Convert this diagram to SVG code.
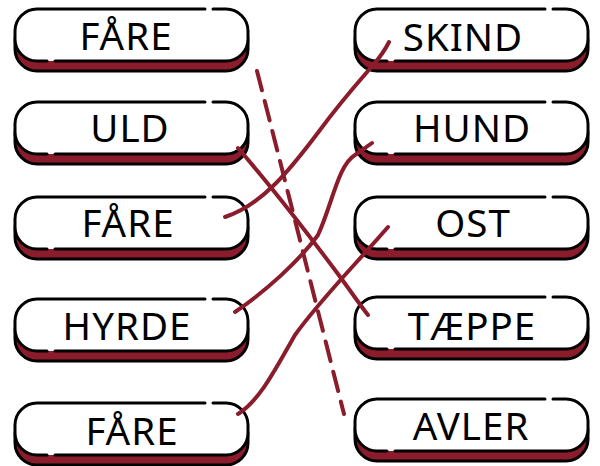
<svg xmlns="http://www.w3.org/2000/svg" xmlns:xlink="http://www.w3.org/1999/xlink" width="600" height="466" viewBox="0 0 600 466">
<style>
.sh{fill:#8b1c2c;stroke:#000;stroke-width:3}
.bg{fill:#fff;stroke:none}
.ol{fill:none;stroke:#000;stroke-width:3;stroke-linecap:round}
.lbl{font-family:"Noto Sans","DejaVu Sans",sans-serif;font-size:38.5px;letter-spacing:1px;fill:#000;text-anchor:middle}
.con{fill:none;stroke:#8b1c2c;stroke-width:4;stroke-linecap:round}
.dash{stroke-dasharray:20 11}
</style>
<defs>
<g id="box">
<rect class="sh" x="0" y="10" width="233" height="52" rx="22" ry="22"/>
<rect class="bg" x="0" y="0" width="233" height="52" rx="22" ry="22"/>
<path class="ol" d="M22,0 L190,0 M198,0 L211,0 A22,22 0 0 1 233,22 L233,30 A22,22 0 0 1 211,52 L40,52 M32,52 L22,52 A22,22 0 0 1 0,30 L0,22 A22,22 0 0 1 22,0"/>
</g>
</defs>
<g id="n-l1"><use xlink:href="#box" x="15" y="9"/><text class="lbl" x="126" y="50">FÅRE</text></g>
<g id="n-l2"><use xlink:href="#box" x="15" y="102"/><text class="lbl" x="130" y="142">ULD</text></g>
<g id="n-l3"><use xlink:href="#box" x="15" y="197"/><text class="lbl" x="128" y="237">FÅRE</text></g>
<g id="n-l4"><use xlink:href="#box" x="15" y="299"/><text class="lbl" x="127" y="340">HYRDE</text></g>
<g id="n-l5"><use xlink:href="#box" x="15" y="403"/><text class="lbl" x="132" y="445">FÅRE</text></g>
<g id="n-r1"><use xlink:href="#box" x="355" y="9"/><text class="lbl" x="463" y="51">SKIND</text></g>
<g id="n-r2"><use xlink:href="#box" x="355" y="102"/><text class="lbl" x="472" y="142">HUND</text></g>
<g id="n-r3"><use xlink:href="#box" x="355" y="197"/><text class="lbl" x="473" y="237">OST</text></g>
<g id="n-r4"><use xlink:href="#box" x="355" y="297"/><text class="lbl" x="472" y="340">TÆPPE</text></g>
<g id="n-r5"><use xlink:href="#box" x="355" y="399"/><text class="lbl" x="471" y="440">AVLER</text></g>
<g id="connectors">
<path class="con dash" d="M257,71 C285,180 315,300 344,414"/>
<path class="con" d="M225,217 C262,205 290,170 320,130 C342,100 362,78 374,64 C380,57 386,48 389,42"/>
<path class="con" d="M238,148 C270,185 305,230 335,270 C350,290 360,305 368,315"/>
<path class="con" d="M235,312 C265,292 300,260 318,235 C332,205 338,165 355,155 C362,150 368,146 372,143"/>
<path class="con" d="M238,414 C260,400 275,370 295,335 C320,300 355,265 388,227"/>
</g>
</svg>
